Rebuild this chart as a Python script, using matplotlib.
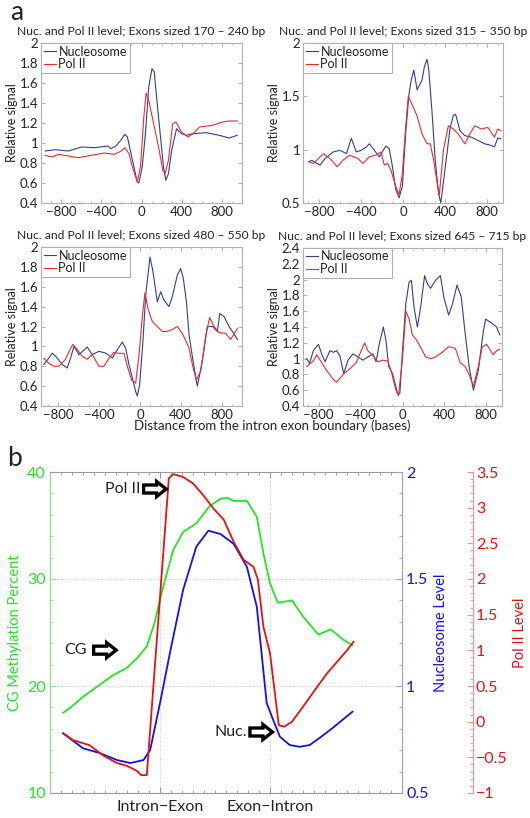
import matplotlib
matplotlib.use("Agg")
import matplotlib.pyplot as plt
from matplotlib.ticker import MultipleLocator, FuncFormatter
from matplotlib.patches import Polygon
from matplotlib.transforms import ScaledTranslation

plt.rcParams['font.family'] = ['Lato', 'DejaVu Sans']

# ---------------- Panel a data ----------------
titles_a = ["Nuc. and Pol II level; Exons sized 170 \u2013 240 bp",
            "Nuc. and Pol II level; Exons sized 315 \u2013 350 bp",
            "Nuc. and Pol II level; Exons sized 480 \u2013 550 bp",
            "Nuc. and Pol II level; Exons sized 645 \u2013 715 bp"]

# panel 1 (170-240)
p1_nuc_x = [-957, -859, -728, -597, -467, -336, -304, -255, -206, -167, -140, -108, -75, -42, -26, 7, 39, 72,
            104, 127, 153, 186, 219, 242, 268, 300, 349, 398, 447, 513, 643, 774, 872, 953]
p1_nuc_y = [0.92, 0.933, 0.92, 0.96, 0.953, 0.97, 0.943, 0.97, 1.027, 1.087, 1.06, 0.91, 0.76, 0.61, 0.60, 0.76,
            1.093, 1.56, 1.743, 1.71, 1.427, 1.093, 0.76, 0.627, 0.693, 0.927, 1.143, 1.093, 1.077, 1.093,
            1.103, 1.077, 1.05, 1.077]
p1_pol_x = [-957, -891, -826, -630, -500, -369, -271, -206, -167, -124, -91, -42, -10, 23, 46, 72, 121, 170,
            212, 235, 268, 310, 343, 398, 464, 513, 578, 708, 806, 872, 953]
p1_pol_y = [0.877, 0.86, 0.887, 0.853, 0.877, 0.90, 0.887, 0.917, 0.953, 0.893, 0.76, 0.61, 0.76, 1.26, 1.50,
            1.427, 1.193, 0.96, 0.727, 0.693, 0.827, 1.193, 1.21, 1.11, 1.06, 1.093, 1.16, 1.177, 1.21, 1.22, 1.22]

# panel 2 (315-350)
p2_nuc_x = [-897, -866, -819, -787, -741, -662, -600, -537, -491, -444, -397, -350, -319, -272, -225, -162,
            -131, -100, -69, -37, -6, 25, 56, 78, 103, 134, 150, 181, 203, 228, 244, 275, 306, 337, 359, 416,
            447, 478, 500, 541, 587, 650, 712, 775, 837, 869, 900, 931]
p2_nuc_y = [0.887, 0.90, 0.871, 0.856, 0.917, 0.979, 0.994, 0.963, 1.107, 0.979, 0.994, 1.025, 1.055, 0.994,
            0.933, 1.034, 1.009, 0.84, 0.626, 0.549, 0.656, 1.147, 1.515, 1.653, 1.745, 1.561, 1.592, 1.653,
            1.776, 1.847, 1.761, 1.362, 0.902, 0.595, 0.50, 0.95, 1.20, 1.322, 1.331, 1.178, 1.132, 1.117,
            1.086, 1.055, 1.04, 1.025, 1.11, 1.10]
p2_pol_x = [-897, -850, -756, -694, -625, -569, -506, -428, -381, -319, -256, -209, -178, -147, -116, -69,
            -37, -6, 25, 50, 87, 134, 181, 228, 259, 291, 344, 384, 431, 478, 525, 587, 634, 681, 744, 806,
            869, 900, 931]
p2_pol_y = [0.887, 0.871, 0.963, 0.917, 0.84, 0.902, 0.948, 0.917, 0.871, 0.933, 0.948, 0.979, 0.856, 0.871,
            0.81, 0.656, 0.58, 0.779, 1.209, 1.50, 1.423, 1.316, 1.147, 1.055, 1.055, 0.902, 0.57, 0.994,
            1.224, 1.193, 1.147, 1.055, 1.147, 1.224, 1.193, 1.209, 1.117, 1.193, 1.178]

# panel 3 (480-550)
p3_nuc_x = [-942, -893, -860, -811, -762, -713, -680, -647, -598, -517, -468, -402, -337, -271, -222, -173,
            -141, -108, -75, -43, -26, -3, 29, 56, 78, 98, 128, 170, 203, 235, 284, 317, 366, 399, 425, 455,
            481, 513, 562, 611, 660, 710, 759, 782, 824, 873, 906, 955]
p3_nuc_y = [0.817, 0.883, 0.933, 0.883, 0.817, 0.783, 0.883, 1.0, 0.917, 0.993, 0.917, 0.95, 0.933, 0.883,
            0.967, 1.043, 0.983, 0.817, 0.683, 0.55, 0.50, 0.617, 1.05, 1.517, 1.717, 1.90, 1.75, 1.45, 1.55,
            1.467, 1.40, 1.50, 1.717, 1.783, 1.683, 1.45, 1.117, 0.90, 0.60, 0.85, 1.20, 1.20, 1.15, 1.33,
            1.30, 1.20, 1.15, 1.07]
p3_pol_x = [-942, -893, -844, -795, -729, -680, -657, -615, -566, -517, -468, -402, -353, -304, -255, -206,
            -157, -124, -82, -43, -10, 23, 49, 78, 121, 170, 219, 268, 317, 366, 415, 448, 481, 513, 552, 595,
            644, 683, 726, 775, 840, 889, 955]
p3_pol_y = [0.88, 0.83, 0.80, 0.80, 0.87, 0.98, 1.02, 0.97, 0.90, 0.87, 0.92, 0.80, 0.80, 0.88, 0.94, 0.93,
            0.93, 0.80, 0.66, 0.63, 0.90, 1.30, 1.54, 1.38, 1.25, 1.20, 1.15, 1.15, 1.17, 1.20, 1.13, 1.06,
            0.98, 0.82, 0.66, 0.75, 1.10, 1.29, 1.20, 1.14, 1.13, 1.07, 1.18]

# panel 4 (645-715)
p4_nuc_x = [-914, -888, -851, -803, -772, -740, -693, -662, -630, -599, -561, -520, -473, -425, -378, -331,
            -284, -252, -221, -183, -158, -132, -95, -47, -25, 0, 32, 63, 85, 110, 142, 173, 211, 236, 268,
            315, 362, 394, 441, 479, 520, 561, 598, 636, 677, 724, 772, 794, 850, 898, 929]
p4_nuc_y = [1.0, 0.94, 1.10, 1.18, 1.06, 0.96, 1.10, 1.08, 1.10, 1.04, 0.81, 0.98, 1.06, 1.02, 0.98, 1.02,
            1.06, 0.96, 1.19, 1.40, 1.23, 0.90, 0.81, 0.56, 0.56, 1.10, 1.70, 1.97, 1.99, 1.65, 1.40, 1.65,
            2.05, 1.95, 1.89, 1.99, 2.05, 1.78, 1.55, 1.70, 1.93, 1.78, 1.32, 0.90, 0.60, 0.85, 1.35, 1.50,
            1.45, 1.40, 1.30]
p4_pol_x = [-914, -851, -819, -772, -725, -662, -630, -567, -504, -441, -394, -362, -331, -284, -236, -189,
            -142, -110, -63, -38, 0, 32, 63, 95, 142, 189, 221, 268, 315, 378, 441, 504, 551, 598, 636, 677,
            724, 762, 803, 866, 898, 929]
p4_pol_y = [0.90, 0.97, 1.05, 0.95, 0.85, 0.74, 0.70, 0.80, 0.87, 0.95, 1.10, 1.20, 1.10, 1.04, 0.96, 0.98,
            0.97, 0.85, 0.60, 0.53, 1.00, 1.60, 1.50, 1.30, 1.22, 1.10, 1.02, 1.00, 1.02, 1.08, 1.15, 1.13,
            0.95, 0.90, 0.80, 0.65, 0.90, 1.15, 1.18, 1.05, 1.10, 1.12]

series_labels = ["Nucleosome", "Pol II"]
ylims_a = [(0.4, 2.0), (0.5, 2.0), (0.4, 2.0), (0.4, 2.4)]
yticks_a = [[0.4, 0.6, 0.8, 1.0, 1.2, 1.4, 1.6, 1.8, 2.0],
            [0.5, 1.0, 1.5, 2.0],
            [0.4, 0.6, 0.8, 1.0, 1.2, 1.4, 1.6, 1.8, 2.0],
            [0.4, 0.6, 0.8, 1.0, 1.2, 1.4, 1.6, 1.8, 2.0, 2.2, 2.4]]
xticks_a = [-800, -400, 0, 400, 800]
xlims_a = [(-1000, 1000), (-950, 950), (-970, 1000), (-950, 950)]

# ---------------- Panel b data ----------------
b_xticks = [10, 20]
b_xticklabels = ["Intron\u2212Exon", "Exon\u2212Intron"]
cg_x = [1.2, 2.0, 3.0, 4.5, 5.7, 7.0, 8.0, 8.8, 9.5, 10.3, 11.2, 12.1, 13.3, 14.5, 15.5, 16.1, 16.7, 17.9,
        18.8, 19.4, 20.0, 20.7, 21.4, 22.0, 23.0, 24.4, 25.5, 26.7, 27.5]
cg_y = [17.5, 18.1, 19.0, 20.1, 21.0, 21.7, 22.7, 23.7, 25.9, 29.3, 32.7, 34.4, 35.2, 36.8, 37.5, 37.6, 37.3,
        37.3, 35.8, 32.4, 29.6, 27.8, 27.9, 28.0, 26.5, 24.8, 25.3, 24.3, 23.8]
nuc_x = [1.2, 3.0, 4.5, 6.1, 7.3, 8.5, 9.1, 10.0, 10.9, 12.1, 13.3, 14.4, 15.5, 16.7, 17.9, 18.8, 19.7, 20.3,
         20.9, 21.8, 22.7, 23.6, 24.5, 25.7, 27.5]
nuc_y = [0.779, 0.709, 0.687, 0.654, 0.640, 0.654, 0.70, 0.92, 1.154, 1.449, 1.651, 1.726, 1.71, 1.664, 1.557,
         1.37, 0.92, 0.84, 0.763, 0.724, 0.716, 0.724, 0.757, 0.804, 0.88]
pol_x = [1.2, 2.1, 3.6, 4.8, 6.1, 7.0, 7.9, 8.3, 8.8, 10.8, 11.2, 12.1, 13.0, 13.9, 14.8, 15.8, 16.7, 17.6,
         18.5, 18.9, 19.4, 20.0, 20.8, 21.3, 22.0, 23.0, 24.3, 25.2, 26.1, 27.0, 27.6]
pol_y = [-0.165, -0.259, -0.33, -0.47, -0.58, -0.62, -0.69, -0.75, -0.75, 3.41, 3.47, 3.43, 3.34, 3.18, 3.0,
         2.83, 2.52, 2.27, 2.17, 1.99, 1.33, 0.96, -0.05, -0.07, 0.0, 0.21, 0.49, 0.68, 0.84, 1.0, 1.12]

# ---------------- Figure ----------------
W, H = 530, 818
fig = plt.figure(figsize=(W / 100, H / 100), dpi=100)


def rect(l, r, t, b):
    return [l / W, 1 - b / H, (r - l) / W, (b - t) / H]


NAVY = "#2f3f96"
RED_A = "#ee2a2a"
SPINE = "#b0b0b0"
TXT = "#222222"
FS_A = 9.5
FS_T = 8.7
FS_L = 9.0

fmt = FuncFormatter(lambda v, p: ("%g" % round(v, 3)).replace("-", "\u2212"))

rects_a = [rect(41, 242, 43, 203), rect(303, 503, 43, 203),
           rect(41, 242, 247, 406), rect(303, 502, 248, 406)]
data_a = [(p1_nuc_x, p1_nuc_y, p1_pol_x, p1_pol_y),
          (p2_nuc_x, p2_nuc_y, p2_pol_x, p2_pol_y),
          (p3_nuc_x, p3_nuc_y, p3_pol_x, p3_pol_y),
          (p4_nuc_x, p4_nuc_y, p4_pol_x, p4_pol_y)]

for i in range(4):
    ax = fig.add_axes(rects_a[i])
    nx, ny, px, py = data_a[i]
    ax.plot(nx, ny, color=NAVY, lw=0.8, label=series_labels[0])
    ax.plot(px, py, color=RED_A, lw=0.8, label=series_labels[1])
    ax.set_xlim(*xlims_a[i])
    ax.set_ylim(*ylims_a[i])
    ax.set_xticks(xticks_a)
    ax.set_yticks(yticks_a[i])
    ax.xaxis.set_major_formatter(fmt)
    ax.yaxis.set_major_formatter(fmt)
    ax.xaxis.set_minor_locator(MultipleLocator(100))
    for s in ax.spines.values():
        s.set_color(SPINE)
        s.set_linewidth(0.8)
    ax.tick_params(which='both', direction='in', top=True, right=True, color=SPINE,
                   labelcolor=TXT, labelsize=FS_A, pad=2)
    ax.tick_params(which='major', length=3)
    ax.tick_params(which='minor', length=1.5)
    ax.set_title(titles_a[i], fontsize=FS_T, color=TXT, pad=6)
    ax.set_ylabel("Relative signal", fontsize=FS_L, color=TXT, labelpad=1)
    leg = ax.legend(loc='upper left', borderaxespad=0, fontsize=FS_L, handlelength=1.0,
                    handletextpad=0.2, borderpad=0.2, labelspacing=0.05, fancybox=False, framealpha=1)
    leg.get_frame().set_edgecolor(SPINE)
    leg.get_frame().set_linewidth(0.8)
    for t in leg.get_texts():
        t.set_color(TXT)

fig.text(272 / W, 1 - 426 / H, "Distance from the intron exon boundary (bases)", ha='center', va='center',
         fontsize=FS_A, color=TXT)
fig.text(10 / W, 1 - 12 / H, "a", fontsize=19, color=TXT, va='center', ha='left')
fig.text(7 / W, 1 - 458 / H, "b", fontsize=19, color=TXT, va='center', ha='left')

# ---------------- Panel b ----------------
GREEN = "#22e622"
BLUE = "#1010f0"
RED_B = "#e81010"
FS_B = 11.5

axb = fig.add_axes(rect(50, 402, 472, 793))
axb.plot(cg_x, cg_y, color=GREEN, lw=1.3)
axb.set_xlim(0, 32)
axb.set_ylim(10, 40)
axb.set_xticks(b_xticks)
axb.set_xticklabels(b_xticklabels)
axb.set_yticks([10, 20, 30, 40])
axb.xaxis.set_minor_locator(MultipleLocator(1))
axb.yaxis.set_minor_locator(MultipleLocator(2))
axb.grid(True, which='major', ls=':', color='#c8c8c8', lw=0.7)
axb.tick_params(axis='x', which='both', direction='in', top=True, color='#999999', labelsize=FS_B,
                labelcolor=TXT, pad=5)
axb.tick_params(axis='x', which='major', length=4)
axb.tick_params(axis='x', which='minor', length=2)
axb.tick_params(axis='y', which='both', direction='in', color='#88ee88', labelcolor=GREEN, labelsize=FS_B,
                pad=3)
axb.tick_params(axis='y', which='major', length=4)
axb.tick_params(axis='y', which='minor', length=2)
axb.set_ylabel("CG Methylation Percent", color=GREEN, fontsize=10.5, labelpad=4)
for k in ['top', 'bottom']:
    axb.spines[k].set_color('#999999')
axb.spines['left'].set_color('#88dd88')
axb.spines['right'].set_visible(False)

axn = axb.twinx()
axn.plot(nuc_x, nuc_y, color=BLUE, lw=1.3)
axn.set_ylim(0.5, 2.0)
axn.set_yticks([0.5, 1.0, 1.5, 2.0])
axn.yaxis.set_major_formatter(fmt)
axn.yaxis.set_minor_locator(MultipleLocator(0.1))
axn.tick_params(axis='y', which='both', direction='in', color='#9999ee', labelcolor=BLUE, labelsize=FS_B,
                pad=3)
axn.tick_params(axis='y', which='major', length=4)
axn.tick_params(axis='y', which='minor', length=2)
axn.set_ylabel("Nucleosome Level", color=BLUE, fontsize=10.5, labelpad=4)
axn.spines['right'].set_color('#9999ee')
for k in ['top', 'bottom', 'left']:
    axn.spines[k].set_visible(False)

axp = axb.twinx()
axp.plot(pol_x, pol_y, color=RED_B, lw=1.3)
axp.set_ylim(-1.0, 3.5)
axp.set_yticks([-1, -0.5, 0, 0.5, 1, 1.5, 2, 2.5, 3, 3.5])
axp.yaxis.set_major_formatter(fmt)
axp.yaxis.set_minor_locator(MultipleLocator(0.1))
axp.spines['right'].set_position(('axes', (473 - 50) / 352))
axp.spines['right'].set_color('#f09090')
for k in ['top', 'bottom', 'left']:
    axp.spines[k].set_visible(False)
axp.tick_params(axis='y', which='both', direction='in', color='#f09090', labelcolor=RED_B, labelsize=FS_B,
                pad=2)
axp.tick_params(axis='y', which='major', length=4)
axp.tick_params(axis='y', which='minor', length=2)
axp.set_ylabel("Pol II Level", color=RED_B, fontsize=10.5, labelpad=4)

# block arrow outline in inches relative to its left-centre anchor
ARROW = [(0.0, -0.04), (0.13, -0.04), (0.13, -0.075), (0.225, 0.0), (0.13, 0.075), (0.13, 0.04), (0.0, 0.04)]


def block_arrow(ax, x0, y, label, tx):
    tr = fig.dpi_scale_trans + ScaledTranslation(x0, y, ax.transAxes)
    poly = Polygon(ARROW, closed=True, transform=tr, fc='white', ec='black', lw=2.4, joinstyle='miter',
                   clip_on=False, zorder=5)
    ax.add_patch(poly)
    ax.text(tx, y, label, transform=ax.transAxes, ha='right', va='center', fontsize=FS_B, color=TXT)


block_arrow(axp, 0.266, 0.947, "Pol II", 0.258)
block_arrow(axp, 0.124, 0.445, "CG", 0.105)
block_arrow(axp, 0.568, 0.190, "Nuc.", 0.56)

fig.savefig("out.png", dpi=100)
